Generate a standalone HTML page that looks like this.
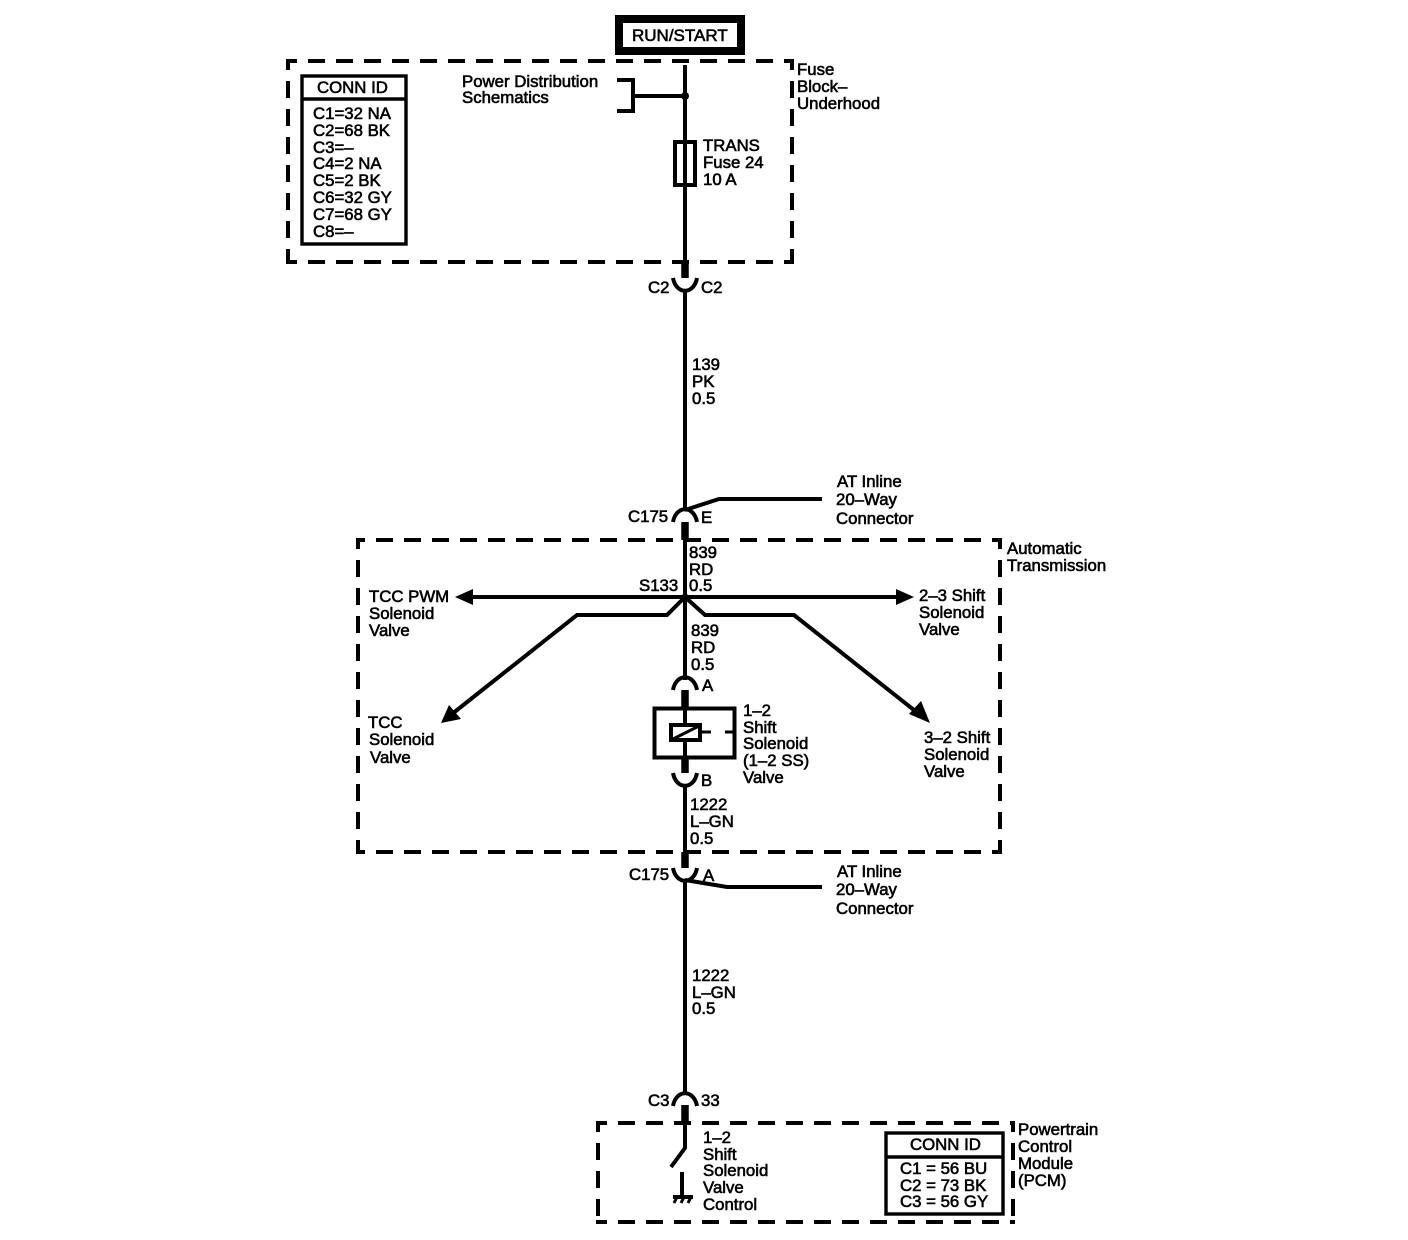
<!DOCTYPE html>
<html><head><meta charset="utf-8"><style>
html,body{margin:0;padding:0;background:#fff}
svg{display:block}
text{font-family:"Liberation Sans",sans-serif;font-size:16.8px;fill:#000;stroke:#000;stroke-width:.6px}
</style></head><body>
<svg width="1408" height="1240" viewBox="0 0 1408 1240" xmlns="http://www.w3.org/2000/svg">
<g fill="none" stroke="#000" stroke-width="4">
<rect x="619" y="19" width="122" height="32" stroke-width="8" fill="#fff"/>
<g stroke-dasharray="17 11" stroke-dashoffset="6" stroke-width="4">
<path d="M286 61H794M286 262H794M288 59V264M792 59V264"/>
<path d="M356 540H1002M356 852H1002" stroke-dashoffset="8"/>
<path d="M358 538V854M1000 538V854"/>
<path d="M596 1123H1015M596 1222H1015M598 1121V1224M1013 1121V1224"/>
</g>
<g stroke-width="3.400">
<rect x="302" y="76" width="104" height="168"/>
<path d="M302 99H406"/>
<rect x="886" y="1133" width="117" height="81"/>
<path d="M886 1157H1003"/>
</g>
<path d="M685 65V262M685 290V510M685 540V680M685 786V852M685 880V1095M685 1122V1148L671 1167"/>
<path d="M617 80H633V111H617M633 96H685" stroke-width="4"/>
<rect x="675" y="142" width="20" height="43" stroke-width="4" fill="#fff"/>
<path d="M685 138V188"/>
<path d="M685 262V278M685 522V540M685 690V707M685 757V773M685 852V868M685 1105V1123" stroke-width="7.500"/>
<path d="M673 278C676 295 694 295 697 278M673 522C676 505 694 505 697 522M673 690C676 673 694 673 697 690M673 773C676 790 694 790 697 773M673 868C676 885 694 885 697 868M673 1106C676 1089 694 1089 697 1106" stroke-width="4"/>
<path d="M685 510L719 499H822M685 880L727 887H822"/>
<path d="M470 597H900"/>
<path d="M685 597L667 615H577L452 714M685 597L705 615H794L919 714" />
<rect x="654.500" y="708.500" width="80" height="49" stroke-width="4"/>
<rect x="671" y="725" width="29" height="15" stroke-width="4" fill="#fff"/>
<path d="M673 739L699 726M702 732H711M725 732H735" stroke-width="3"/>
<path d="M685 707V723M685 742V758"/>
<path d="M682 1172V1198M673 1197H693" stroke-width="4"/>
<path d="M677 1197L674 1203M684 1197L681 1203M691 1197L688 1203" stroke-width="3"/>
</g>
<circle cx="685" cy="96" r="4"/>
<circle cx="685" cy="597" r="3.500"/>
<path d="M455 597L473 589V605ZM914 597L896 589V605ZM441 723L449 705L461 719ZM930 723L909 714L921 701Z"/>
<text x="632" y="41" style="font-size:17px">RUN/START</text>
<text x="462" y="87">Power Distribution</text>
<text x="462" y="103">Schematics</text>
<text x="797" y="75">Fuse</text>
<text x="797" y="92">Block–</text>
<text x="797" y="109">Underhood</text>
<text x="317" y="93">CONN ID</text>
<text x="313" y="119">C1=32 NA</text>
<text x="313" y="136">C2=68 BK</text>
<text x="313" y="153">C3=–</text>
<text x="313" y="169">C4=2 NA</text>
<text x="313" y="186">C5=2 BK</text>
<text x="313" y="203">C6=32 GY</text>
<text x="313" y="220">C7=68 GY</text>
<text x="313" y="237">C8=–</text>
<text x="703" y="151">TRANS</text>
<text x="703" y="168">Fuse 24</text>
<text x="703" y="185">10 A</text>
<text x="648" y="293">C2</text>
<text x="701" y="293">C2</text>
<text x="692" y="370">139</text>
<text x="692" y="387">PK</text>
<text x="692" y="404">0.5</text>
<text x="837" y="487">AT Inline</text>
<text x="836" y="505">20–Way</text>
<text x="836" y="524">Connector</text>
<text x="628" y="522">C175</text>
<text x="701" y="523">E</text>
<text x="1007" y="554">Automatic</text>
<text x="1007" y="571">Transmission</text>
<text x="689" y="558">839</text>
<text x="689" y="575">RD</text>
<text x="689" y="591">0.5</text>
<text x="639" y="591">S133</text>
<text x="369" y="602">TCC PWM</text>
<text x="369" y="619">Solenoid</text>
<text x="369" y="636">Valve</text>
<text x="919" y="601">2–3 Shift</text>
<text x="919" y="618">Solenoid</text>
<text x="919" y="635">Valve</text>
<text x="691" y="636">839</text>
<text x="691" y="653">RD</text>
<text x="691" y="670">0.5</text>
<text x="702" y="691">A</text>
<text x="368" y="728">TCC</text>
<text x="369" y="745">Solenoid</text>
<text x="370" y="763">Valve</text>
<text x="743" y="716">1–2</text>
<text x="743" y="733">Shift</text>
<text x="743" y="749">Solenoid</text>
<text x="743" y="766">(1–2 SS)</text>
<text x="743" y="783">Valve</text>
<text x="924" y="743">3–2 Shift</text>
<text x="924" y="760">Solenoid</text>
<text x="924" y="777">Valve</text>
<text x="701" y="786">B</text>
<text x="690" y="810">1222</text>
<text x="690" y="827">L–GN</text>
<text x="690" y="844">0.5</text>
<text x="629" y="880">C175</text>
<text x="703" y="881">A</text>
<text x="837" y="877">AT Inline</text>
<text x="836" y="895">20–Way</text>
<text x="836" y="914">Connector</text>
<text x="692" y="981">1222</text>
<text x="692" y="998">L–GN</text>
<text x="692" y="1014">0.5</text>
<text x="648" y="1106">C3</text>
<text x="701" y="1106">33</text>
<text x="703" y="1143">1–2</text>
<text x="703" y="1160">Shift</text>
<text x="703" y="1176">Solenoid</text>
<text x="703" y="1193">Valve</text>
<text x="703" y="1210">Control</text>
<text x="910" y="1150">CONN ID</text>
<text x="900" y="1174">C1 = 56 BU</text>
<text x="900" y="1191">C2 = 73 BK</text>
<text x="900" y="1207">C3 = 56 GY</text>
<text x="1018" y="1135">Powertrain</text>
<text x="1018" y="1152">Control</text>
<text x="1018" y="1169">Module</text>
<text x="1018" y="1186">(PCM)</text>
</svg>
</body></html>
